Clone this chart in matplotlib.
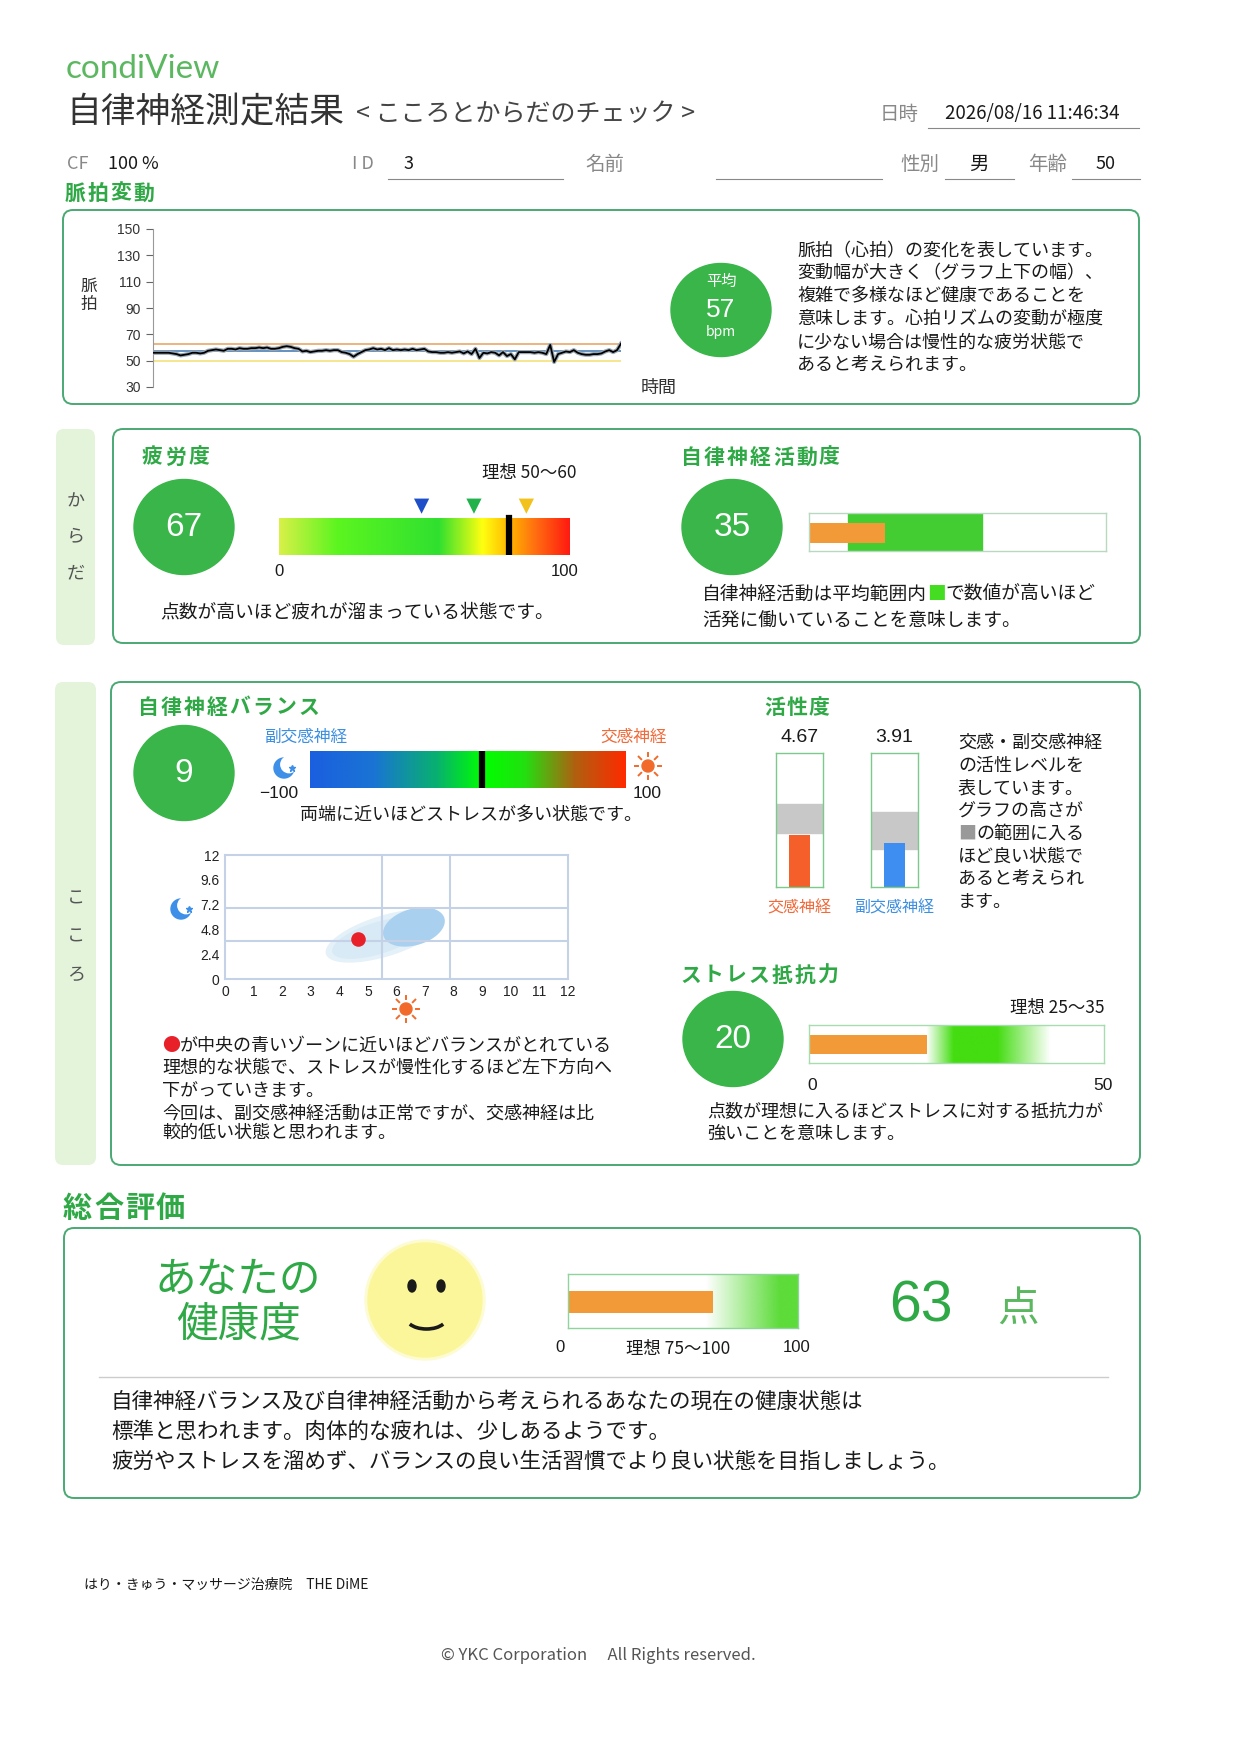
import numpy as np
import matplotlib
matplotlib.use("Agg")
import matplotlib.pyplot as plt
from matplotlib.patches import FancyBboxPatch, Ellipse, Circle, Arc
from matplotlib.colors import LinearSegmentedColormap, to_rgb

plt.rcParams['font.family'] = ['Noto Sans CJK JP', 'DejaVu Sans']

W, H = 1240, 1754
GREEN = '#2fa846'
CIRCLE = '#39b54a'
BORDER = '#4aa873'
TAB = '#e4f4da'
TEXT = '#1a1a1a'
ORANGE = '#f39a38'
NUM = ['Liberation Sans', 'DejaVu Sans']

pulse_bpm = [56, 56, 56, 56, 56, 55.5, 55, 54, 54.5, 55, 56, 56, 55.5, 56, 57.5, 58, 58.5, 58,
             57.5, 59, 59, 58.5, 59.5, 59, 59, 59.5, 59.5, 60, 59.5, 60, 59, 59, 59.5, 60.5, 61,
             60.5, 59.5, 59, 57, 57.5, 56.5, 57, 57.5, 57.5, 58, 57.5, 58, 58, 56.5, 56, 55, 53,
             55, 56.5, 58, 58.5, 59.5, 58.5, 59, 58, 59.5, 58, 58.5, 58, 58.5, 58, 59, 58, 58.5,
             59, 57, 56.5, 56.5, 56, 56, 56.5, 56, 56.5, 57, 55.5, 57, 55, 59, 52, 56, 55.5, 56.5,
             56, 54, 56.5, 53.5, 55, 51, 56.5, 56.5, 56.5, 56.5, 56, 56.5, 56, 55, 62, 49, 55, 56,
             57, 56.5, 58, 56, 55, 54.5, 54.5, 55, 55, 55.5, 57, 58, 56.5, 58, 63]
pulse_avg = 57
pulse_upper = 63
pulse_lower = 50
pulse_ticks = [30, 50, 70, 90, 110, 130, 150]

fatigue_score = 67
fatigue_marker = 79
fatigue_triangles = [49, 67, 85]
fatigue_tri_colors = ['#1f4fc8', '#22b24c', '#f2c11c']

activity_score = 35
activity_max = 137
activity_avg_range = (18, 80)

balance_score = 9
symp_activity = 4.67
para_activity = 3.91
symp_good = (4.8, 7.4)
para_good = (3.4, 6.7)
scatter_ticks_x = list(range(0, 13))
scatter_ticks_y = [0, 2.4, 4.8, 7.2, 9.6, 12]
scatter_tick_labels_y = ['0', '2.4', '4.8', '7.2', '9.6', '12']
scatter_grid_x = [5.48, 7.86]
scatter_grid_y = [3.68, 6.84]
zone_outer = {'c': (5.58, 4.16), 'u': (2.06, 1.55), 'v': (0.0, 2.06)}
zone_mid = {'c': (5.35, 3.95), 'u': (1.6, 1.2), 'v': (0.0, 1.6)}
zone_inner = {'c': (6.61, 5.03), 'u': (1.08, 0.57), 'v': (0.0, 1.81)}

stress_score = 20
stress_max = 50
stress_fade = ([0, 19.9, 24.5, 32, 41, 50], [0, 0, 1, 1, 0, 0])

health_score = 63
health_fade = ([0, 60, 92, 100], [0, 0, 1, 1])

fig = plt.figure(figsize=(W / 100, H / 100), dpi=100)
bg = fig.add_axes([0, 0, 1, 1])
bg.set_xlim(0, W)
bg.set_ylim(H, 0)
bg.axis('off')


def txt(x, y, s, size=13, color=TEXT, ha='left', va='center', **kw):
    bg.text(x, y, s, fontsize=size, color=color, ha=ha, va=va, **kw)


def heading(x, y, s, pitch, size=15):
    for i, ch in enumerate(s):
        bg.text(x + i * pitch, y, ch, fontsize=size, color=GREEN, fontweight='bold',
                ha='left', va='center')


def rbox(x0, y0, x1, y1, fc='white', ec=BORDER, lw=1.4, r=10):
    bg.add_patch(FancyBboxPatch((x0, y0), x1 - x0, y1 - y0,
                                boxstyle=f"round,pad=0,rounding_size={r}",
                                fc=fc, ec=ec, lw=lw))


def sub(x0, y0, x1, y1):
    ax = fig.add_axes([x0 / W, 1 - y1 / H, (x1 - x0) / W, (y1 - y0) / H])
    ax.patch.set_alpha(0)
    return ax


def score_circle(cx, cy, value, size=24):
    bg.add_patch(Ellipse((cx, cy), 100, 95, color=CIRCLE))
    txt(cx, cy, str(value), size=size, color='white', ha='center', family=NUM)


def moon(cx, cy, r=10, color='#3d8fe8'):
    bg.add_patch(Circle((cx, cy), r, color=color))
    bg.add_patch(Circle((cx + 0.5 * r, cy - 0.35 * r), 0.82 * r, color='white'))
    bg.plot(cx + 0.75 * r, cy - 0.05 * r, marker='*', ms=5, color=color)


def sun(cx, cy, r=6, color='#f26a2a'):
    bg.add_patch(Circle((cx, cy), r, color=color))
    for a in np.arange(0, 360, 45):
        t = np.radians(a)
        bg.plot([cx + 1.6 * r * np.cos(t), cx + 2.2 * r * np.cos(t)],
                [cy + 1.6 * r * np.sin(t), cy + 2.2 * r * np.sin(t)], color=color, lw=1.4)


def bar_frame(ax, ec):
    ax.set_xticks([])
    ax.set_yticks([])
    for s in ax.spines.values():
        s.set_color(ec)
        s.set_linewidth(1.0)


def fade_image(ax, xmax, fade, color):
    xs = np.linspace(0, xmax, 600)
    img = np.zeros((1, 600, 4))
    img[..., :3] = to_rgb(color)
    img[..., 3] = np.interp(xs, fade[0], fade[1])
    ax.imshow(img, extent=(0, xmax, 0, 1), aspect='auto', origin='lower', zorder=1)


def ellipse_fill(ax, z, color):
    t = np.linspace(0, 2 * np.pi, 200)
    cx, cy = z['c']
    ux, uy = z['u']
    vx, vy = z['v']
    ax.fill(cx + ux * np.cos(t) + vx * np.sin(t), cy + uy * np.cos(t) + vy * np.sin(t),
            color=color, lw=0, zorder=1)


# ---- header ----
txt(66, 69, 'condiView', size=24, color='#5cb860', family=['Lato', 'DejaVu Sans'])
txt(66, 113, '自律神経測定結果', size=25, color='#333333')
txt(356, 114, '< こころとからだのチェック >', size=18, color='#444444')
txt(880, 114, '日時', size=14, color='#888888')
txt(945, 114, '2026/08/16 11:46:34', size=13.5, color=TEXT)
bg.plot([928, 1139], [128, 128], color='#888888', lw=0.8)

row_y, line_y = 164, 179
txt(67, row_y, 'CF', size=13, color='#888888')
txt(108, row_y, '100 %', size=13, color=TEXT)
txt(352, row_y, 'I D', size=13, color='#888888')
txt(403, row_y, '3', size=13, color=TEXT)
bg.plot([388, 563], [line_y, line_y], color='#888888', lw=0.8)
txt(585, row_y, '名前', size=14, color='#888888')
bg.plot([716, 882], [line_y, line_y], color='#888888', lw=0.8)
txt(900, row_y, '性別', size=14, color='#888888')
txt(969, row_y, '男', size=14, color=TEXT)
bg.plot([945, 1014], [line_y, line_y], color='#888888', lw=0.8)
txt(1028, row_y, '年齢', size=14, color='#888888')
txt(1096, row_y, '50', size=13, color=TEXT)
bg.plot([1072, 1140], [line_y, line_y], color='#888888', lw=0.8)

# ---- pulse variation ----
heading(65, 193, '脈拍変動', 22.9)
rbox(63, 210, 1139, 404)
txt(89, 286, '脈', size=12, color='#333333', ha='center')
txt(89, 304, '拍', size=12, color='#333333', ha='center')
txt(659, 388, '時間', size=13, color='#333333', ha='center')

axp = sub(153, 229, 621, 387)
xs = np.arange(len(pulse_bpm))
axp.axhline(pulse_upper, color='#e8a868', lw=1.2)
axp.axhline(pulse_lower, color='#f5e27a', lw=1.2)
axp.axhline(pulse_avg, color='#4a7fb5', lw=1.2)
axp.plot(xs, pulse_bpm, color='#9aa8b5', lw=3.0, zorder=3)
axp.plot(xs, pulse_bpm, color='black', lw=1.3, zorder=4)
axp.set_xlim(0, len(pulse_bpm) - 1)
axp.set_ylim(30, 150)
axp.set_yticks(pulse_ticks)
axp.set_xticks([])
for s in ['top', 'right', 'bottom']:
    axp.spines[s].set_visible(False)
axp.spines['left'].set_color('#999999')
axp.tick_params(axis='y', length=5, color='#666666', labelsize=10, labelcolor='#333333', pad=4)
for lab in axp.get_yticklabels():
    lab.set_family(NUM)

bg.add_patch(Ellipse((721, 310), 100, 93, color=CIRCLE))
txt(721, 281, '平均', size=11, color='white', ha='center')
txt(721, 310, str(pulse_avg), size=19, color='white', ha='center', family=NUM)
txt(721, 332, 'bpm', size=10, color='white', ha='center')
pulse_text = ['脈拍（心拍）の変化を表しています。', '変動幅が大きく（グラフ上下の幅）、',
              '複雑で多様なほど健康であることを', '意味します。心拍リズムの変動が極度',
              'に少ない場合は慢性的な疲労状態で', 'あると考えられます。']
for i, line in enumerate(pulse_text):
    txt(797, 251 + i * 22.7, line, size=13)

# ---- からだ ----
rbox(56, 429, 95, 645, fc=TAB, ec='none', r=8)
for ch, y in zip('からだ', [502, 537, 573]):
    txt(76, y, ch, size=13, color='#555555', ha='center')
rbox(113, 429, 1140, 643)

heading(142, 457, '疲労度', 23.3)
score_circle(184, 527, fatigue_score)
txt(576, 473, '理想 50〜60', size=12.5, ha='right')

fat_cmap = LinearSegmentedColormap.from_list('fat', [
    (0.0, '#d8f048'), (0.2, '#5cf520'), (0.55, '#30e030'), (0.70, '#ffff10'),
    (0.80, '#ffb000'), (0.88, '#ff7010'), (1.0, '#ff1a10')])
axf = sub(279, 497, 570, 555)
axf.imshow(np.linspace(0, 1, 256)[None, :], cmap=fat_cmap, extent=(0, 100, 0, 1),
           aspect='auto', origin='lower')
axf.plot([fatigue_marker, fatigue_marker], [0, 1], color='black', lw=4.5)
axf.scatter(fatigue_triangles, [1.33] * 3, marker='v', s=120, c=fatigue_tri_colors, lw=0)
axf.set_xlim(0, 100)
axf.set_ylim(0, 1.58)
axf.axis('off')
txt(279, 571, '0', size=12, ha='center', family=NUM)
txt(565, 571, '100', size=12, ha='center', family=NUM)
txt(160, 612, '点数が高いほど疲れが溜まっている状態です。', size=13.5)

heading(681, 457, '自律神経活動度', 23)
score_circle(732, 527, activity_score)
axa = sub(809, 513, 1106, 551)
axa.axvspan(*activity_avg_range, color='#44cc33', zorder=1)
axa.barh(0.485, activity_score, height=0.53, color=ORANGE, zorder=2)
axa.set_xlim(0, activity_max)
axa.set_ylim(0, 1)
bar_frame(axa, '#b8d8c0')
em = 13.5 * 100 / 72
txt(702, 594, '自律神経活動は平均範囲内', size=13.5)
txt(702 + 12 * em, 594, '■', size=13.5, color='#44dd22')
txt(702 + 13 * em, 594, 'で数値が高いほど', size=13.5)
txt(702, 620, '活発に働いていることを意味します。', size=13.5)

# ---- こころ ----
rbox(55, 682, 96, 1165, fc=TAB, ec='none', r=8)
for ch, y in zip('こころ', [899, 937, 975]):
    txt(76, y, ch, size=13, color='#555555', ha='center')
rbox(111, 682, 1140, 1165)

heading(138, 707, '自律神経バランス', 22.9)
score_circle(184, 773, balance_score)
txt(264, 737, '副交感神経', size=12, color='#3d8fe0')
txt(667, 737, '交感神経', size=12, color='#f06a3a', ha='right')
moon(284, 768)
sun(648, 766)
bal_cmap = LinearSegmentedColormap.from_list('bal', [
    (0.0, '#1a5fe0'), (0.2, '#1a74d4'), (0.4, '#08b070'), (0.55, '#00ff00'),
    (0.68, '#22e010'), (0.84, '#b06010'), (1.0, '#ff2a00')])
axb = sub(310, 751, 626, 788)
axb.imshow(np.linspace(0, 1, 256)[None, :], cmap=bal_cmap, extent=(-100, 100, 0, 1),
           aspect='auto', origin='lower')
axb.plot([balance_score, balance_score], [0, 1], color='black', lw=4.5)
axb.set_xlim(-100, 100)
axb.set_ylim(0, 1)
axb.axis('off')
txt(279, 794, '−100', size=12.5, ha='center', family=NUM)
txt(647, 794, '100', size=12.5, ha='center', family=NUM)
txt(471, 815, '両端に近いほどストレスが多い状態です。', size=13, ha='center')

axs = sub(225, 855, 568, 979)
ellipse_fill(axs, zone_outer, '#e5f1f9')
ellipse_fill(axs, zone_mid, '#d8eaf6')
ellipse_fill(axs, zone_inner, '#a9d0ee')
for gx in scatter_grid_x:
    axs.axvline(gx, color='#c5d1e6', lw=1.5, zorder=2)
for gy in scatter_grid_y:
    axs.axhline(gy, color='#c5d1e6', lw=1.5, zorder=2)
axs.scatter([symp_activity], [para_activity], s=110, color='#e8202a', zorder=4, lw=0)
axs.set_xlim(0, 12)
axs.set_ylim(0, 12)
axs.set_xticks(scatter_ticks_x)
axs.set_yticks(scatter_ticks_y)
axs.set_yticklabels(scatter_tick_labels_y)
axs.tick_params(length=0, labelsize=10, labelcolor='#222222', pad=4)
for lab in axs.get_xticklabels() + axs.get_yticklabels():
    lab.set_family(NUM)
for s in axs.spines.values():
    s.set_color('#c5d1e6')
    s.set_linewidth(1.5)
moon(181, 909)
sun(406, 1009)

em = 13 * 100 / 72
txt(162, 1046, '●', size=13, color='#e8202a')
txt(162 + em, 1046, 'が中央の青いゾーンに近いほどバランスがとれている', size=13)
bal_text = [(1068, '理想的な状態で、ストレスが慢性化するほど左下方向へ'),
            (1091, '下がっていきます。'),
            (1114, '今回は、副交感神経活動は正常ですが、交感神経は比'),
            (1133, '較的低い状態と思われます。')]
for y, line in bal_text:
    txt(162, y, line, size=13)

heading(764, 708, '活性度', 22.2)
for x0, val, good, col, lab, lcol in [
        (776, symp_activity, symp_good, '#f45f2a', '交感神経', '#f06a3a'),
        (871, para_activity, para_good, '#3d8ef0', '副交感神経', '#3d8fe0')]:
    axv = sub(x0, 753, x0 + 47, 887)
    axv.axhspan(*good, color='#c8c8c8', zorder=1)
    axv.bar(0.5, val, width=0.44, color=col, zorder=2)
    axv.set_xlim(0, 1)
    axv.set_ylim(0, 12)
    bar_frame(axv, '#7cc98a')
    txt(x0 + 23.5, 738, f'{val:.2f}', size=14, ha='center', family=NUM)
    txt(x0 + 23.5, 908, lab, size=11.5, color=lcol, ha='center')

act_text = ['交感・副交感神経', 'の活性レベルを', '表しています。', 'グラフの高さが',
            None, 'ほど良い状態で', 'あると考えられ', 'ます。']
for i, line in enumerate(act_text):
    if line is not None:
        txt(958, 743 + i * 22.7, line, size=13)
txt(958, 743 + 4 * 22.7, '■', size=13, color='#999999')
txt(958 + em, 743 + 4 * 22.7, 'の範囲に入る', size=13)

heading(680, 975, 'ストレス抵抗力', 22.9)
score_circle(733, 1039, stress_score)
txt(1104, 1008, '理想 25〜35', size=12.5, ha='right')
axst = sub(809, 1025, 1104, 1063)
fade_image(axst, stress_max, stress_fade, '#44dd11')
axst.barh(0.49, stress_score, height=0.5, color=ORANGE, zorder=2)
axst.set_xlim(0, stress_max)
axst.set_ylim(0, 1)
bar_frame(axst, '#a8dcb0')
txt(812, 1085, '0', size=12.5, ha='center', family=NUM)
txt(1103, 1085, '50', size=12.5, ha='center', family=NUM)
txt(707, 1111, '点数が理想に入るほどストレスに対する抵抗力が', size=13)
txt(707, 1134, '強いことを意味します。', size=13)

# ---- 総合評価 ----
heading(63, 1208, '総合評価', 31, size=21)
rbox(64, 1228, 1140, 1498)
txt(238, 1280, 'あなたの', size=30, color=GREEN, ha='center')
txt(239, 1325, '健康度', size=30, color=GREEN, ha='center')

bg.add_patch(Circle((425, 1300), 60, color='#fdfbd2'))
bg.add_patch(Circle((425, 1300), 57, color='#fbf69a'))
bg.add_patch(Ellipse((412, 1286), 8, 12, color='#1a1a1a'))
bg.add_patch(Ellipse((441, 1286), 8, 12, color='#1a1a1a'))
bg.add_patch(Arc((426.5, 1318), 40, 22, theta1=20, theta2=160, color='#1a1a1a', lw=2.6))

axh = sub(568, 1274, 798, 1328)
fade_image(axh, 100, health_fade, '#5ddc3a')
axh.barh(0.48, health_score, height=0.42, color=ORANGE, zorder=2)
axh.set_xlim(0, 100)
axh.set_ylim(0, 1)
bar_frame(axh, '#8fd49a')
txt(560, 1347, '0', size=12, ha='center', family=NUM)
txt(678, 1349, '理想 75〜100', size=12.5, ha='center')
txt(797, 1347, '100', size=12, ha='center', family=NUM)
txt(921, 1306, str(health_score), size=41, color=GREEN, ha='center', family=NUM)
txt(1018, 1309, '点', size=30, color='#5cb860', ha='center')

bg.plot([99, 1108], [1377, 1377], color='#cccccc', lw=1.0)
summary = ['自律神経バランス及び自律神経活動から考えられるあなたの現在の健康状態は',
           '標準と思われます。肉体的な疲れは、少しあるようです。',
           '疲労やストレスを溜めず、バランスの良い生活習慣でより良い状態を目指しましょう。']
for i, line in enumerate(summary):
    txt(111, 1402 + i * 30, line, size=15.5)

# ---- footer ----
txt(84, 1585, 'はり・きゅう・マッサージ治療院　THE DiME', size=10)
txt(598, 1655, '© YKC Corporation　 All Rights reserved.', size=12, color='#555555', ha='center')

fig.savefig('out.png', dpi=100)
